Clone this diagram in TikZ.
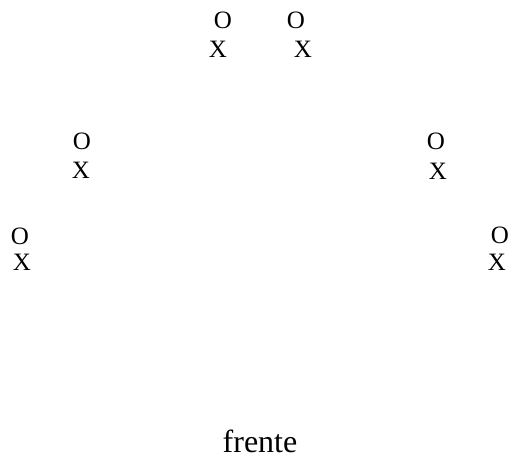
\documentclass[tikz,border=0pt]{standalone}
\usepackage{fontspec}
\setmainfont{Liberation Serif}
\begin{document}
\begin{tikzpicture}[x=1pt,y=-1pt,
  glyph/.style={inner sep=0pt,anchor=center,font=\fontsize{25}{25}\selectfont},
  lbl/.style={inner sep=0pt,anchor=base,font=\fontsize{32}{32}\selectfont}]
\useasboundingbox (0,0) rectangle (513,463);
\node[glyph] (o1) at (223,20) {O};
\node[glyph] (x1) at (218,49) {X};
\node[glyph] (o2) at (296,20) {O};
\node[glyph] (x2) at (303,49) {X};
\node[glyph] (o3) at (82,141) {O};
\node[glyph] (x3) at (81,170) {X};
\node[glyph] (o4) at (436,141) {O};
\node[glyph] (x4) at (438,171) {X};
\node[glyph] (o5) at (20,236) {O};
\node[glyph] (x5) at (22,262) {X};
\node[glyph] (o6) at (500,235) {O};
\node[glyph] (x6) at (497,262) {X};
\node[lbl] (f) at (260,452) {frente};
\end{tikzpicture}
\end{document}
